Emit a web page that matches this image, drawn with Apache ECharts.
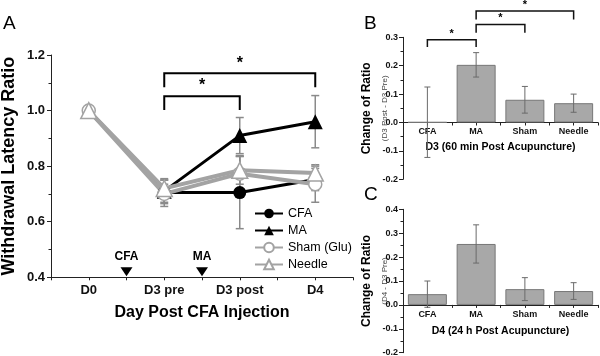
<!DOCTYPE html>
<html><head><meta charset="utf-8">
<script src="https://cdn.jsdelivr.net/npm/echarts/dist/echarts.min.js"></script>
<style>html,body{margin:0;padding:0;background:#fff}#c{width:600px;height:356px}</style>
</head><body><div id="c"></div>
<script>
// ---------- Data (panel A) ----------
const daysA = ['D0', 'D3 pre', 'D3 post', 'D4'];
const cfaMean = [1.0, 0.705, 0.705, 0.752];
const cfaErr = [0, 0.05, 0.13, 0.04];
const maMean = [1.0, 0.71, 0.91, 0.96];
const maErr = [0, 0.04, 0.065, 0.094];
const shamMean = [1.0, 0.70, 0.773, 0.735];
const shamErr = [0, 0.035, 0.065, 0.065];
const needleMean = [1.0, 0.72, 0.785, 0.775];
const needleErr = [0, 0.03, 0.05, 0.03];
const seriesNamesA = ['CFA', 'MA', 'Sham (Glu)', 'Needle'];
const eventX = [0.5, 1.5];
const eventLabels = ['CFA', 'MA'];
// brackets: [fromIdx, toIdx, yTop, yLeg]
const bracketsA = [[1, 2, 1.052, 1.002], [1, 3, 1.134, 1.084]];
const starsA = [[1.5, 1.091], [2, 1.17]];
// ---------- Data (panels B, C) ----------
const groupsBC = ['CFA', 'MA', 'Sham', 'Needle'];
const d3Change = [0.001, 0.203, 0.080, 0.068];
const d3Err = [0.124, 0.043, 0.047, 0.032];
const d4Change = [0.045, 0.255, 0.066, 0.058];
const d4Err = [0.055, 0.08, 0.048, 0.035];
const bracketsB = [[0, 1, 0.2916, 0.266], [1, 2, 0.345, 0.316], [1, 3, 0.393, 0.3626]];
const starsB = [[0.5, 0.312], [1.5, 0.368], [2, 0.413]];

const FF = "'Liberation Sans', Arial, sans-serif";
const GRAY = '#a3a3a3';
const ERRGRAY = '#8a8a8a';

const pts = arr => arr.map((v, i) => [i, v]);
const errPts = (m, e) => m.map((v, i) => [i, v, e[i]]).filter(d => d[2] > 0);

function errRender(color, lw, cap) {
  return function (params, api) {
    const x = api.value(0), m = api.value(1), e = api.value(2);
    const top = api.coord([x, m + e]), bot = api.coord([x, m - e]);
    return {
      type: 'group', children: [
        { type: 'line', shape: { x1: top[0], y1: top[1], x2: bot[0], y2: bot[1] }, style: { stroke: color, lineWidth: lw } },
        { type: 'line', shape: { x1: top[0] - cap, y1: top[1], x2: top[0] + cap, y2: top[1] }, style: { stroke: color, lineWidth: lw } },
        { type: 'line', shape: { x1: bot[0] - cap, y1: bot[1], x2: bot[0] + cap, y2: bot[1] }, style: { stroke: color, lineWidth: lw } }
      ]
    };
  };
}
function bracketRender(color, lw) {
  return function (params, api) {
    const a = api.coord([api.value(0), api.value(3)]);
    const b = api.coord([api.value(0), api.value(2)]);
    const c = api.coord([api.value(1), api.value(2)]);
    const d = api.coord([api.value(1), api.value(3)]);
    return { type: 'polyline', shape: { points: [a, b, c, d] }, style: { stroke: color, lineWidth: lw, fill: null } };
  };
}
function starRender(size) {
  return function (params, api) {
    const p = api.coord([api.value(0), api.value(1)]);
    return { type: 'text', x: p[0], y: p[1], style: { text: '*', fontSize: size, fontWeight: 'bold', fontFamily: FF, align: 'center', verticalAlign: 'middle', fill: '#000' } };
  };
}

const chart = echarts.init(document.getElementById('c'), null, { renderer: 'canvas' });

// grid geometry
const gA = { left: 51, top: 55, width: 302, height: 222.3 };
const gB = { left: 403, top: 37.3, width: 195, height: 142 };
const gC = { left: 403, top: 209.3, width: 195, height: 143.4 };
const yB = [-0.2, 0.3], yC = [-0.2, 0.4];
// offset to put the category axis at value 0
const zeroOffset = (g, r) => -(0 - r[0]) / (r[1] - r[0]) * g.height;

function xCatAxis(grid, labels, fs, margin, name, nameFs, nameGap, offset) {
  return {
    type: 'value', gridIndex: grid, min: -0.5, max: 3.5, interval: 0.5, offset: offset,
    axisLine: { show: true, onZero: false, lineStyle: { color: '#222', width: 1 } },
    axisTick: { show: true, length: 3, lineStyle: { color: '#222' } },
    splitLine: { show: false },
    axisLabel: { show: true, margin: margin, fontSize: fs, fontWeight: 'bold', fontFamily: FF, color: '#111',
      formatter: v => (Number.isInteger(v) ? labels[v] : ''), showMinLabel: true, showMaxLabel: true, hideOverlap: false },
    name: name, nameLocation: 'middle', nameGap: nameGap, nameMoveOverlap: false,
    nameTextStyle: { fontSize: nameFs, fontWeight: 'bold', fontFamily: FF, color: '#000' }
  };
}
function yAxisDef(grid, min, max, step, fs, margin, name, nameGap, nameStyle) {
  return {
    type: 'value', gridIndex: grid, min: min, max: max, interval: step,
    axisLine: { show: true, onZero: false, lineStyle: { color: '#222', width: 1 } },
    axisTick: { show: true, length: 4, lineStyle: { color: '#222' } },
    minorTick: { show: true, splitNumber: 2, length: 2.5, lineStyle: { color: '#222' } },
    splitLine: { show: false },
    axisLabel: { margin: margin, fontSize: fs, fontWeight: 'bold', fontFamily: FF, color: '#111',
      formatter: v => v.toFixed(1), showMinLabel: true, showMaxLabel: true },
    name: name, nameLocation: 'middle', nameGap: nameGap, nameRotate: 90, nameMoveOverlap: false,
    nameTextStyle: nameStyle
  };
}

const richBC = {
  rich: {
    a: { fontSize: 12, fontWeight: 'bold', fontFamily: FF, color: '#000', lineHeight: 20 },
    b: { fontSize: 8, fontFamily: FF, color: '#444', lineHeight: 16 }
  }
};

const option = {
  animation: false,
  backgroundColor: '#fff',
  grid: [
    Object.assign({ outerBoundsMode: 'none', containLabel: false }, gA),
    Object.assign({ outerBoundsMode: 'none', containLabel: false }, gB),
    Object.assign({ outerBoundsMode: 'none', containLabel: false }, gC)
  ],
  xAxis: [
    xCatAxis(0, daysA, 13, 7, 'Day Post CFA Injection', 16, 27, 0),
    xCatAxis(1, groupsBC, 9, 5, 'D3 (60 min Post Acupuncture)', 10.5, 19.5, zeroOffset(gB, yB)),
    xCatAxis(2, groupsBC, 9, 5.5, 'D4 (24 h Post Acupuncture)', 10.5, 20.5, zeroOffset(gC, yC))
  ],
  yAxis: [
    yAxisDef(0, 0.4, 1.2, 0.2, 13, 6, 'Withdrawal Latency Ratio', 33,
      { fontSize: 18, fontWeight: 'bold', fontFamily: FF, color: '#000' }),
    yAxisDef(1, yB[0], yB[1], 0.1, 9, 5, '{a|Change of Ratio}\n{b|(D3 Post - D3 Pre)}', 10, richBC),
    yAxisDef(2, yC[0], yC[1], 0.1, 9, 5, '{a|Change of Ratio}\n{b|(D4 - D3 Pre)}', 10, richBC)
  ],
  legend: {
    orient: 'vertical', left: 254, top: 207, padding: 0, itemWidth: 28, itemHeight: 12, itemGap: 4,
    data: seriesNamesA,
    textStyle: { fontSize: 12.5, fontFamily: FF, color: '#000' }
  },
  graphic: [
    { type: 'text', left: 3, top: 14, style: { text: 'A', fontSize: 19, fontFamily: FF, fill: '#000' } },
    { type: 'text', left: 364, top: 14, style: { text: 'B', fontSize: 19, fontFamily: FF, fill: '#000' } },
    { type: 'text', left: 364, top: 185, style: { text: 'C', fontSize: 19, fontFamily: FF, fill: '#000' } }
  ],
  series: [
    { type: 'custom', xAxisIndex: 0, yAxisIndex: 0, z: 1, renderItem: errRender(ERRGRAY, 1.5, 4),
      data: [].concat(errPts(cfaMean, cfaErr), errPts(maMean, maErr), errPts(shamMean, shamErr), errPts(needleMean, needleErr)) },
    { name: 'CFA', type: 'line', xAxisIndex: 0, yAxisIndex: 0, z: 3, data: pts(cfaMean),
      symbol: 'circle', symbolSize: 13, lineStyle: { color: '#000', width: 3 }, itemStyle: { color: '#000' } },
    { name: 'MA', type: 'line', xAxisIndex: 0, yAxisIndex: 0, z: 3, data: pts(maMean),
      symbol: 'triangle', symbolSize: 15, lineStyle: { color: '#000', width: 3 }, itemStyle: { color: '#000' } },
    { name: 'Sham (Glu)', type: 'line', xAxisIndex: 0, yAxisIndex: 0, z: 3, data: pts(shamMean),
      symbol: 'circle', symbolSize: 13, lineStyle: { color: GRAY, width: 4 },
      itemStyle: { color: '#fff', borderColor: GRAY, borderWidth: 1.5 } },
    { name: 'Needle', type: 'line', xAxisIndex: 0, yAxisIndex: 0, z: 3, data: pts(needleMean),
      symbol: 'triangle', symbolSize: 16, lineStyle: { color: GRAY, width: 4 },
      itemStyle: { color: '#fff', borderColor: GRAY, borderWidth: 1.5 } },
    { type: 'custom', xAxisIndex: 0, yAxisIndex: 0, z: 4,
      data: eventX.map((x, i) => [x, 0.4, i]),
      renderItem: function (params, api) {
        const p = api.coord([api.value(0), api.value(1)]);
        const lbl = eventLabels[params.dataIndex];
        return { type: 'group', children: [
          { type: 'polygon', shape: { points: [[p[0] - 6, p[1] - 10], [p[0] + 6, p[1] - 10], [p[0], p[1] - 1]] }, style: { fill: '#000' } },
          { type: 'text', x: p[0], y: p[1] - 21, style: { text: lbl, fontSize: 12, fontWeight: 'bold', fontFamily: FF, align: 'center', verticalAlign: 'middle', fill: '#000' } }
        ] };
      } },
    { type: 'custom', xAxisIndex: 0, yAxisIndex: 0, z: 4, data: bracketsA, renderItem: bracketRender('#000', 2) },
    { type: 'custom', xAxisIndex: 0, yAxisIndex: 0, z: 4, data: starsA, renderItem: starRender(16) },
    { type: 'bar', xAxisIndex: 1, yAxisIndex: 1, data: pts(d3Change), barWidth: 39,
      itemStyle: { color: '#a8a8a8', borderColor: '#777', borderWidth: 1 } },
    { type: 'custom', xAxisIndex: 1, yAxisIndex: 1, z: 4, data: errPts(d3Change, d3Err), renderItem: errRender('#6a6a6a', 1, 3) },
    { type: 'custom', xAxisIndex: 1, yAxisIndex: 1, z: 4, data: bracketsB, renderItem: bracketRender('#111', 1.5) },
    { type: 'custom', xAxisIndex: 1, yAxisIndex: 1, z: 4, data: starsB, renderItem: starRender(11) },
    { type: 'bar', xAxisIndex: 2, yAxisIndex: 2, data: pts(d4Change), barWidth: 39,
      itemStyle: { color: '#a8a8a8', borderColor: '#777', borderWidth: 1 } },
    { type: 'custom', xAxisIndex: 2, yAxisIndex: 2, z: 4, data: errPts(d4Change, d4Err), renderItem: errRender('#6a6a6a', 1, 3) }
  ]
};
chart.setOption(option);
</script></body></html>
